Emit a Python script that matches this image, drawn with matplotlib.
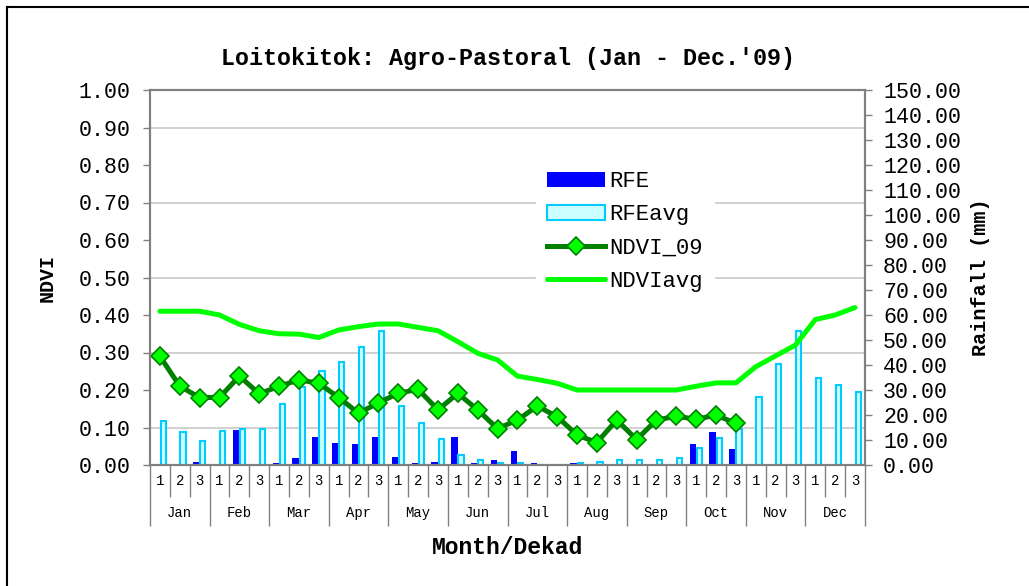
import numpy as np
import matplotlib
matplotlib.use("Agg")
import matplotlib.pyplot as plt
from matplotlib.lines import Line2D
from matplotlib.ticker import MultipleLocator, FormatStrFormatter

plt.rcParams["font.family"] = ["Liberation Mono", "DejaVu Sans Mono"]

months = ["Jan", "Feb", "Mar", "Apr", "May", "Jun",
          "Jul", "Aug", "Sep", "Oct", "Nov", "Dec"]
dekads = ["1", "2", "3"] * 12

# rainfall (mm), Jan-1 .. Oct-3 for 2009, full year for the average
rfe = [0, 0, 1.3, 0, 14.2, 0, 0.8, 2.7, 11.1, 8.9, 8.3, 11.1,
       3.3, 0.7, 1.3, 11.1, 0.7, 2.0, 5.5, 0.7, 0, 0.7, 0, 0,
       0, 0, 0, 8.4, 13.3, 6.3]
rfe_avg = [17.7, 13.1, 9.6, 13.7, 14.3, 14.3, 24.3, 31.3, 37.6, 41.1, 47.3, 53.7,
           23.6, 16.7, 10.3, 4.2, 1.9, 0.7, 0.7, 0, 0, 0.7, 1.2, 1.9,
           1.9, 1.9, 2.7, 6.7, 10.9, 14.3, 27.1, 40.4, 53.7, 34.7, 32.0, 29.1]

# NDVI
ndvi_09 = [0.29, 0.21, 0.18, 0.18, 0.237, 0.19, 0.21, 0.227, 0.218, 0.18, 0.138, 0.166,
           0.191, 0.202, 0.147, 0.191, 0.147, 0.097, 0.12, 0.157, 0.129, 0.08, 0.06, 0.12,
           0.068, 0.12, 0.13, 0.122, 0.133, 0.111]
ndvi_avg = [0.41, 0.41, 0.41, 0.40, 0.375, 0.358, 0.35, 0.349, 0.34, 0.36, 0.369, 0.376,
            0.376, 0.367, 0.358, 0.329, 0.298, 0.28, 0.237, 0.228, 0.218, 0.20, 0.20, 0.20,
            0.20, 0.20, 0.20, 0.21, 0.219, 0.219, 0.262, 0.291, 0.32, 0.388, 0.40, 0.42]

W, H = 1029, 586
fig = plt.figure(figsize=(W / 100, H / 100), dpi=100)
ax = fig.add_axes([150 / W, 1 - 465 / H, 715 / W, 375 / H])
ax2 = ax.twinx()
ax.set_zorder(ax2.get_zorder() + 1)
ax.patch.set_visible(False)

x = np.arange(len(rfe_avg))
x9 = np.arange(len(rfe))

# bars on the rainfall axis
b1 = ax2.bar(x9 - 0.17, rfe, width=0.32, color="#0000FF", label="RFE")
b2 = ax2.bar(x + 0.16, rfe_avg, width=0.26, color="#CCFFFF",
             edgecolor="#00CCFF", linewidth=1.5, label="RFEavg")

# NDVI lines
l1, = ax.plot(np.arange(len(ndvi_09)), ndvi_09, color="#008000", lw=3.6,
              marker="D", ms=9, mfc="#00FF00", mec="#008000", mew=1.2,
              label="NDVI_09")
l2, = ax.plot(x, ndvi_avg, color="#00FF00", lw=3.6, label="NDVIavg",
              solid_capstyle="round")

ax.set_xlim(-0.5, 35.5)
ax.set_ylim(0, 1)
ax2.set_ylim(0, 150)

gray = "#808080"
ax.yaxis.set_major_locator(MultipleLocator(0.1))
ax.yaxis.set_major_formatter(FormatStrFormatter("%.2f"))
ax2.yaxis.set_major_locator(MultipleLocator(10))
ax2.yaxis.set_major_formatter(FormatStrFormatter("%.2f"))

# grid drawn behind bars, every 0.1 NDVI (= 15 mm)
ax2.yaxis.set_minor_locator(MultipleLocator(15))
ax2.grid(which="minor", axis="y", color="#C8C8C8", lw=1.2)
ax2.set_axisbelow(True)
ax2.tick_params(axis="y", which="minor", length=0)

ax.tick_params(axis="y", which="major", length=5, width=1, color=gray,
               labelsize=15.6, pad=9)
ax2.tick_params(axis="y", which="major", length=5, width=1, color=gray,
                labelsize=15.6, pad=8)

# category separators
ax.set_xticks(np.arange(-0.5, 36, 3))
ax.set_xticks(np.arange(-0.5, 36, 1), minor=True)
ax.set_xticklabels([])
ax.tick_params(axis="x", which="major", length=44, width=1, color=gray)
ax.tick_params(axis="x", which="minor", length=23, width=1, color=gray)

tr = ax.get_xaxis_transform()
for i, d in enumerate(dekads):
    ax.text(i, -0.043, d, transform=tr, ha="center", va="center", fontsize=10)
for m, name in enumerate(months):
    ax.text(3 * m + 1, -0.128, name, transform=tr, ha="center", va="center",
            fontsize=10)

for a in (ax, ax2):
    for s in a.spines.values():
        s.set_color(gray)
        s.set_linewidth(1.5)

ax.set_xlabel("Month/Dekad", fontsize=16.6, fontweight="bold")
ax.xaxis.set_label_coords(0.5, -0.219)
ax.xaxis.label.set_verticalalignment("center")
ax.set_ylabel("NDVI", fontsize=14.4, fontweight="bold")
ax.yaxis.set_label_coords(-0.144, 0.5)
ax.yaxis.label.set_verticalalignment("center")
ax2.set_ylabel("Rainfall (mm)", fontsize=14.5, fontweight="bold")
ax2.yaxis.set_label_coords(1.161, 0.5)
ax2.yaxis.label.set_verticalalignment("center")

fig.text(508 / W, 1 - 58 / H, "Loitokitok: Agro-Pastoral (Jan - Dec.'09)",
         ha="center", va="center", fontsize=16.8, fontweight="bold")

leg = ax.legend([b1, b2, l1, l2], ["RFE", "RFEavg", "NDVI_09", "NDVIavg"],
                loc="upper left", bbox_to_anchor=(536 / W, 1 - 160 / H),
                bbox_transform=fig.transFigure, fontsize=16, frameon=True,
                facecolor="white", edgecolor="white", framealpha=1,
                fancybox=False, borderaxespad=0, borderpad=0.5,
                handlelength=2.6, handletextpad=0.2, labelspacing=0.55,
                numpoints=1)

# chart-area border (left and top edges visible)
fig.add_artist(Line2D([7 / W, 7 / W], [0, 1 - 7 / H], transform=fig.transFigure,
                      color="black", lw=1.5))
fig.add_artist(Line2D([7 / W, 1], [1 - 7 / H, 1 - 7 / H], transform=fig.transFigure,
                      color="black", lw=1.5))

fig.savefig("out.png", dpi=100, facecolor="white")
